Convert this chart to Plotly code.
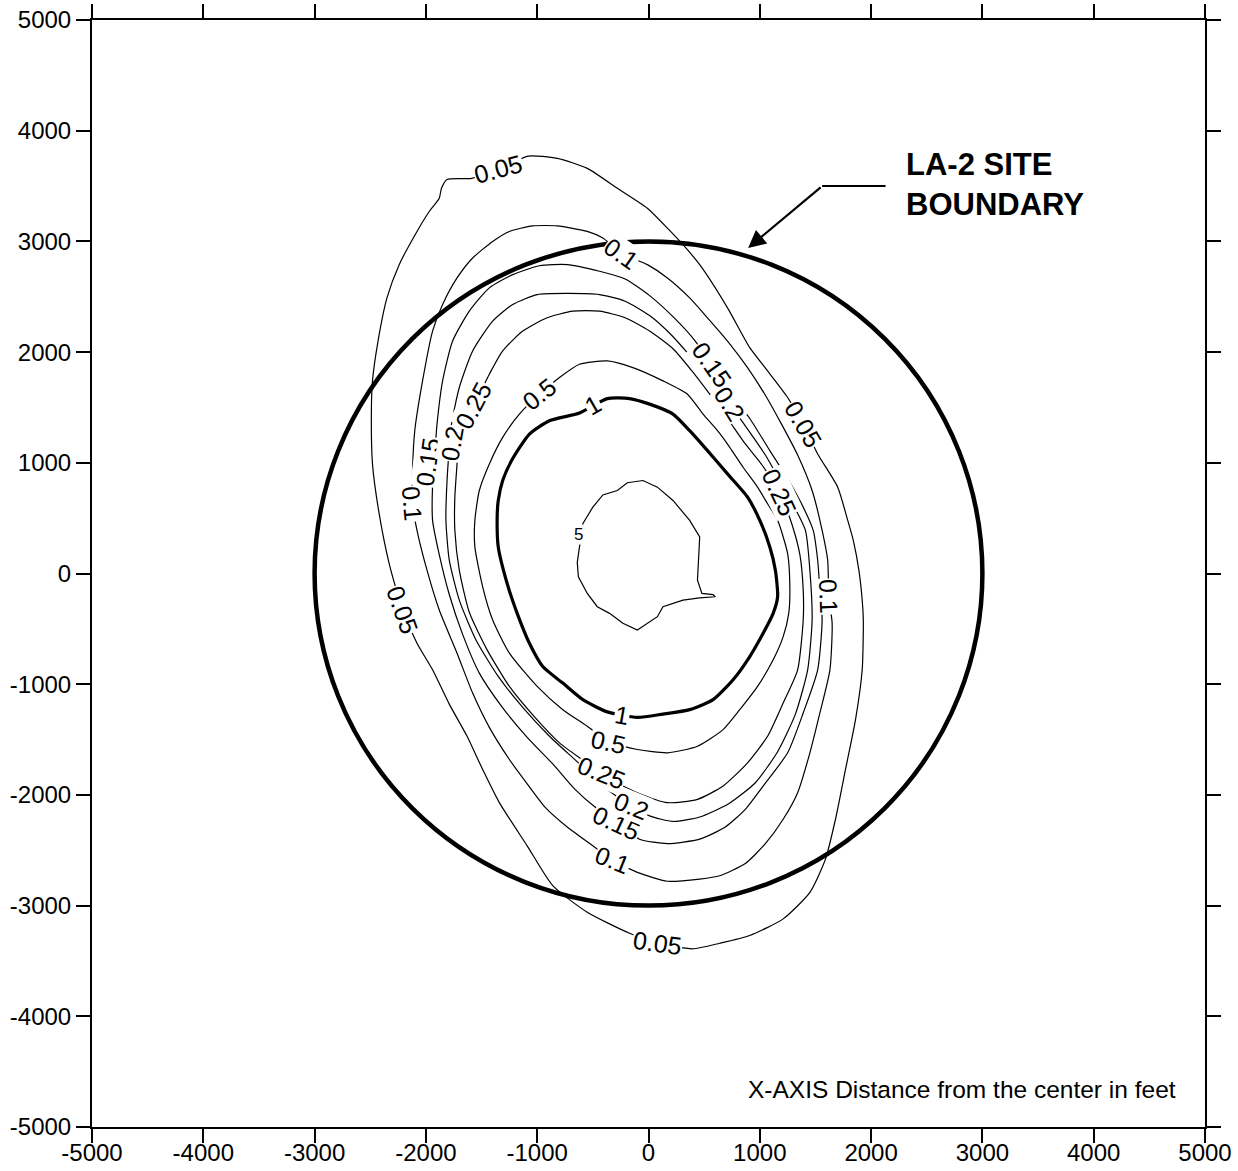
import plotly.graph_objects as go

# ---------------- data (feet) ----------------
tick_vals = [-5000, -4000, -3000, -2000, -1000, 0, 1000, 2000, 3000, 4000, 5000]
tick_text = ["-5000", "-4000", "-3000", "-2000", "-1000", "0", "1000", "2000", "3000", "4000", "5000"]

site_radius = 3000

# contour 0.05
x005 = [-1350, -1080, -820, -550, -280, -10, 170, 310, 460, 710, 910, 1070, 1250, 1390, 1520, 1700, 1790, 1840,
        1890, 1920, 1930, 1920, 1860, 1770, 1680, 1590, 1450, 1210, 910, 640, 400, 80, -170, -550, -860, -1090,
        -1340, -1490, -1630, -1790, -1940, -2080, -2210, -2330, -2420, -2480, -2490, -2480, -2430, -2350, -2240,
        -2080, -1970, -1880, -1860, -1810, -1590, -1350]
y005 = [3650, 3770, 3750, 3660, 3480, 3300, 3120, 2970, 2790, 2400, 2040, 1830, 1590, 1350, 1080, 780, 480, 300,
        30, -240, -420, -870, -1320, -1770, -2220, -2580, -2880, -3120, -3270, -3340, -3390, -3340, -3250, -3060,
        -2820, -2460, -2070, -1770, -1470, -1180, -870, -630, -330, 90, 540, 990, 1440, 1740, 2100, 2490, 2790,
        3090, 3270, 3390, 3480, 3560, 3570, 3650]

# contour 0.1
x01 = [-240, -10, 170, 370, 530, 710, 890, 1050, 1200, 1340, 1470, 1560, 1610, 1620, 1650, 1630, 1540, 1450, 1340,
       1210, 1050, 870, 640, 460, 170, -100, -320, -500, -730, -930, -1090, -1250, -1430, -1580, -1720, -1880,
       -1990, -2080, -2120, -2120, -2100, -2030, -1940, -1850, -1720, -1580, -1400, -1250, -1040, -820, -550,
       -410, -240]
y01 = [2890, 2790, 2670, 2490, 2310, 2100, 1860, 1610, 1340, 1070, 750, 390, 120, -210, -450, -870, -1260, -1620,
       -1980, -2220, -2440, -2620, -2730, -2760, -2780, -2700, -2590, -2460, -2290, -2110, -1900, -1680, -1390,
       -1080, -720, -330, 30, 390, 630, 930, 1290, 1740, 2190, 2430, 2670, 2850, 3000, 3090, 3140, 3140, 3090,
       3030, 2890]

# contour 0.15
x015 = [-1920, -1900, -1850, -1760, -1610, -1430, -1220, -980, -730, -440, -210, 10, 240, 420, 570, 730, 910,
        1090, 1260, 1380, 1480, 1520, 1540, 1560, 1520, 1390, 1250, 1030, 870, 690, 460, 170, -80, -280, -480,
        -660, -860, -1090, -1320, -1520, -1670, -1790, -1880, -1940, -1940, -1920]
y015 = [1080, 1350, 1740, 2100, 2370, 2580, 2700, 2780, 2790, 2730, 2660, 2510, 2300, 2100, 1880, 1650, 1400,
        1110, 840, 620, 390, 120, -150, -420, -870, -1260, -1620, -1920, -2130, -2290, -2400, -2440, -2400, -2250,
        -2110, -1950, -1720, -1480, -1200, -900, -550, -190, 170, 480, 800, 1080]

# contour 0.2
x02 = [-1790, -1770, -1700, -1580, -1400, -1220, -1000, -730, -440, -210, 10, 210, 370, 550, 730, 900, 1050, 1180,
       1300, 1410, 1450, 1470, 1430, 1320, 1160, 960, 720, 460, 220, 10, -170, -410, -630, -890, -1130, -1350,
       -1550, -1700, -1790, -1820, -1810, -1790]
y02 = [1130, 1350, 1680, 2010, 2280, 2430, 2520, 2530, 2520, 2460, 2330, 2150, 1970, 1760, 1530, 1290, 1070, 840,
       620, 390, 30, -420, -870, -1270, -1610, -1890, -2080, -2200, -2240, -2190, -2090, -1920, -1710, -1470,
       -1210, -930, -600, -240, 120, 480, 840, 1130]

# contour 0.25
x025 = [-1570, -1430, -1310, -1130, -910, -680, -440, -210, 10, 220, 390, 550, 710, 870, 1020, 1180, 1290, 1360,
        1390, 1390, 1340, 1210, 1070, 890, 670, 440, 170, -100, -380, -570, -800, -1020, -1250, -1450, -1610,
        -1700, -1740, -1740, -1720, -1700, -1570]
y025 = [1520, 1800, 2010, 2190, 2310, 2370, 2370, 2310, 2190, 2030, 1830, 1620, 1400, 1170, 980, 730, 440, 170,
        -150, -420, -870, -1170, -1470, -1710, -1920, -2040, -2070, -1980, -1840, -1700, -1530, -1300, -1020, -690,
        -350, 30, 390, 690, 990, 1290, 1520]

# contour 0.5
x05 = [-980, -800, -620, -370, -140, 130, 350, 490, 620, 730, 850, 980, 1070, 1160, 1250, 1270, 1260, 1210, 1120,
       980, 820, 670, 440, 170, -100, -360, -550, -770, -1000, -1250, -1400, -1490, -1560, -1560, -1520, -1430,
       -1310, -1160, -980]
y05 = [1620, 1770, 1890, 1920, 1860, 1740, 1620, 1440, 1290, 1140, 960, 780, 630, 480, 180, -120, -360, -570, -780,
       -1020, -1230, -1410, -1560, -1620, -1590, -1520, -1380, -1230, -1020, -720, -420, -120, 240, 480, 750, 990,
       1230, 1440, 1620]

# contour 1
x1 = [-620, -370, -170, 10, 220, 370, 530, 710, 890, 1000, 1090, 1140, 1160, 1120, 1030, 910, 760, 580, 370, 130,
      -100, -370, -590, -770, -950, -1070, -1180, -1270, -1350, -1360, -1350, -1310, -1230, -1070, -890, -620]
y1 = [1450, 1580, 1580, 1530, 1440, 1290, 1110, 900, 690, 480, 240, 30, -210, -360, -540, -750, -960, -1140,
      -1230, -1270, -1300, -1250, -1140, -990, -840, -630, -360, -90, 240, 480, 660, 840, 1020, 1260, 1380, 1450]

# contour 5
x5 = [-620, -590, -500, -410, -280, -190, -50, 80, 220, 370, 460, 450, 440, 480, 580, 600, 460, 310, 130, 80, -10,
      -100, -230, -350, -460, -550, -630, -640, -620]
y5 = [240, 450, 600, 710, 750, 820, 840, 780, 660, 480, 330, 120, -60, -180, -190, -210, -220, -240, -300, -390,
      -450, -510, -450, -360, -300, -180, -30, 100, 240]

contour_lines = [
    ("0.05", x005, y005),
    ("0.1", x01, y01),
    ("0.15", x015, y015),
    ("0.2", x02, y02),
    ("0.25", x025, y025),
    ("0.5", x05, y05),
    ("1", x1, y1),
    ("5", x5, y5),
]

# contour labels (drawing order matters where labels overlap)
label_text = ["0.05", "0.05", "0.05", "0.05",
              "0.1", "0.1", "0.1", "0.1",
              "0.15", "0.2", "0.15", "0.2",
              "0.15", "0.25", "0.2", "0.25", "0.25",
              "0.5", "0.5", "1", "1", "5"]
label_x = [-1350, 1390, 80, -2210,
           -240, 1620, -320, -2120,
           -1985, -1765, 570, 730,
           -290, -420, -150, -1570, 1180,
           -980, -360, -500, -240, -630]
label_y = [3650, 1350, -3340, -330,
           2890, -210, -2590, 630,
           1010, 1170, 1880, 1530,
           -2255, -1805, -2100, 1520, 730,
           1620, -1520, 1520, -1280, 350]
label_angle = [-15, 60, 8, 70,
               35, 88, 22, 85,
               -82, -80, 55, 58,
               25, 22, 22, -62, 65,
               -38, 12, -30, 10, 0]

FONT = "Arial, 'Liberation Sans', Helvetica, sans-serif"

fig = go.Figure()
for lvl, xs, ys in contour_lines:
    width = 3.2 if lvl == "1" else 1.2
    shape = "linear" if lvl == "5" else "spline"
    fig.add_trace(go.Scatter(
        x=xs, y=ys, mode="lines",
        line=dict(color="black", width=width, shape=shape, smoothing=0.6),
        hoverinfo="skip", showlegend=False))

# site boundary circle
fig.add_shape(type="circle", xref="x", yref="y",
              x0=-site_radius, y0=-site_radius, x1=site_radius, y1=site_radius,
              line=dict(color="black", width=4.5), layer="above")

# contour labels
for t, lx, ly, ang in zip(label_text, label_x, label_y, label_angle):
    fig.add_annotation(x=lx, y=ly, xref="x", yref="y", text=t, showarrow=False,
                       textangle=ang, bgcolor="white", borderpad=0,
                       font=dict(family=FONT, size=17 if t == "5" else 25, color="black"))

# leader line + arrow to the site boundary
leader_y = 3500
fig.add_shape(type="line", xref="x", yref="y", x0=1560, y0=leader_y, x1=2130, y1=leader_y,
              line=dict(color="black", width=2))
fig.add_annotation(x=895, y=2940, ax=1560, ay=leader_y, xref="x", yref="y", axref="x", ayref="y",
                   text="", showarrow=True, arrowhead=2, arrowsize=1.6, arrowwidth=2.2, arrowcolor="black")
fig.add_annotation(x=2300, y=3515, xref="x", yref="y", text="<b>LA-2 SITE<br>BOUNDARY</b>",
                   showarrow=False, xanchor="left", yanchor="middle", align="left",
                   font=dict(family=FONT, size=31, color="black"))

fig.add_annotation(x=4760, y=-4660, xref="x", yref="y", text="X-AXIS Distance from the center in feet",
                   showarrow=False, xanchor="right", yanchor="middle",
                   font=dict(family=FONT, size=24.5, color="black"))

axis_common = dict(range=[-5000, 5000], tickvals=tick_vals, ticktext=tick_text, automargin=False,
                   showgrid=False, zeroline=False, showline=True, linewidth=2, linecolor="black",
                   mirror="ticks", ticks="outside", ticklen=14, tickwidth=1.5, tickcolor="black",
                   tickfont=dict(family=FONT, size=24, color="black"))

fig.update_xaxes(**axis_common, ticklabelstandoff=-11)
fig.update_yaxes(**axis_common)

fig.update_layout(width=1238, height=1171,
                  margin=dict(l=92, r=33, t=20, b=44),
                  plot_bgcolor="white", paper_bgcolor="white")

fig.write_html("out.html", config={"displayModeBar": False},
               post_script="document.body.style.margin='0';document.body.style.overflow='hidden';")
